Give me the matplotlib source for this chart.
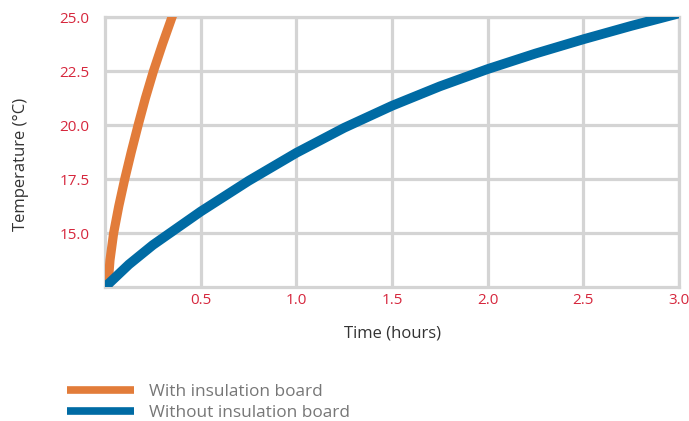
import matplotlib
matplotlib.use("Agg")
import matplotlib.pyplot as plt

plt.rcParams['font.family'] = ['Open Sans', 'DejaVu Sans']

# Data
with_time = [0.015, 0.026, 0.045, 0.072, 0.103, 0.137, 0.173, 0.211, 0.253, 0.300, 0.350, 0.37]
with_temp = [12.5, 13.75, 15.0, 16.25, 17.5, 18.75, 20.0, 21.25, 22.5, 23.75, 25.0, 25.5]

without_time = [0.0, 0.125, 0.25, 0.5, 0.75, 1.0, 1.25, 1.5, 1.75, 2.0, 2.25, 2.5, 2.75, 3.0]
without_temp = [12.5, 13.55, 14.45, 16.0, 17.42, 18.72, 19.88, 20.9, 21.8, 22.6, 23.32, 23.98, 24.6, 25.18]

x_ticks = [0.5, 1.0, 1.5, 2.0, 2.5, 3.0]
y_ticks = [15.0, 17.5, 20.0, 22.5, 25.0]

orange = "#E27C3A"
blue = "#006BA4"
red = "#D6273D"
grid_c = "#D4D4D4"

fig = plt.figure(figsize=(6.89, 4.21), dpi=100)
ax = fig.add_axes([0.1524, 0.318, 0.9855 - 0.1524, 0.959 - 0.318])

ax.plot(with_time, with_temp, color=orange, lw=6.6, solid_capstyle='butt',
        solid_joinstyle='round', label="With insulation board", zorder=3)
ax.plot(without_time, without_temp, color=blue, lw=7.0, solid_capstyle='butt',
        solid_joinstyle='round', label="Without insulation board", zorder=3)

ax.set_xlim(0, 3.0)
ax.set_ylim(12.5, 25.0)
ax.set_xticks(x_ticks)
ax.set_yticks(y_ticks)
ax.set_xticklabels([f"{v:.1f}" for v in x_ticks])
ax.set_yticklabels([f"{v:.1f}" for v in y_ticks])
ax.tick_params(axis='both', length=0, labelcolor=red, labelsize=11)
ax.tick_params(axis='y', pad=11)
ax.tick_params(axis='x', pad=4)

ax.grid(True, color=grid_c, lw=2.3, zorder=0)
ax.set_axisbelow(True)
for s in ax.spines.values():
    s.set_color(grid_c)
    s.set_linewidth(2.3)
    s.set_zorder(0)

ax.set_xlabel("Time (hours)", fontsize=12, color="#333333", labelpad=13)
fig.text(0.031, 0.61, "Temperature (°C)", rotation=90, fontsize=12,
         color="#333333", ha='center', va='center')

leg = fig.legend(loc='upper left', bbox_to_anchor=(0.0966, 0.088),
                 frameon=False, fontsize=12.4, handlelength=3.9,
                 handletextpad=0.87, labelspacing=0.28, borderaxespad=0,
                 borderpad=0)
for line in leg.get_lines():
    line.set_linewidth(5.5)
for t in leg.get_texts():
    t.set_color("#777777")

fig.savefig("out.png", dpi=100)
